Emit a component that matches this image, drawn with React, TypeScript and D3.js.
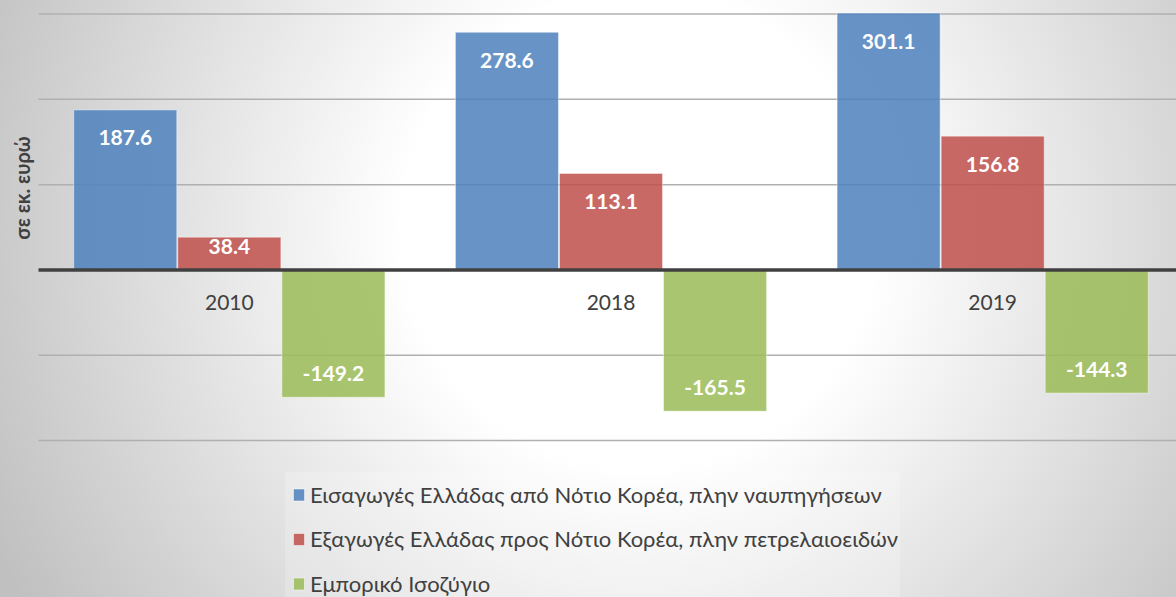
import React from "react";
import * as d3 from "d3";

const years = ["2010", "2018", "2019"];
const seriesNames = [
  "Εισαγωγές Ελλάδας από Νότιο Κορέα, πλην ναυπηγήσεων",
  "Εξαγωγές Ελλάδας προς Νότιο Κορέα, πλην πετρελαιοειδών",
  "Εμπορικό Ισοζύγιο",
];
const imports = [187.6, 278.6, 301.1];
const exportsV = [38.4, 113.1, 156.8];
const balance = [-149.2, -165.5, -144.3];
const seriesValues = [imports, exportsV, balance];
const seriesColors = ["#4f81bd", "#c0504d", "#9bbb59"];
const yTicks = [-200, -100, 0, 100, 200, 300];
const yAxisTitle = "σε εκ. ευρώ";

const W = 1176;
const H = 597;
const FONT = "Lato, 'Open Sans', 'DejaVu Sans', sans-serif";

export default function App() {
  const y = d3.scaleLinear().domain([-200, 300]).range([440.6, 14.0]);
  const x = d3
    .scaleBand<string>()
    .domain(years)
    .range([38.5, 1183.5])
    .paddingInner(0.182)
    .paddingOuter(0.091);
  const xs = d3
    .scaleBand<number>()
    .domain([0, 1, 2])
    .range([0, x.bandwidth()]);
  const y0 = y(0);

  return (
    <svg
      width={W}
      height={H}
      style={{ position: "absolute", left: 0, top: 0, display: "block" }}
    >
      <defs>
        <radialGradient
          id="bg"
          gradientUnits="userSpaceOnUse"
          cx={640}
          cy={230}
          r={720}
        >
          <stop offset="0.33" stopColor="#ffffff" />
          <stop offset="1" stopColor="#c0c0c0" />
        </radialGradient>
      </defs>
      <rect x={0} y={0} width={W} height={H} fill="url(#bg)" />

      {yTicks
        .filter((t) => t !== 0)
        .map((t) => (
          <line
            key={t}
            x1={38.5}
            x2={W}
            y1={y(t)}
            y2={y(t)}
            stroke="#b0b0b0"
            strokeWidth={1.5}
          />
        ))}

      {years.map((yr, i) => (
        <g key={yr} transform={`translate(${x(yr)},0)`}>
          {seriesValues.map((vals, s) => {
            const v = vals[i];
            const top = v >= 0 ? y(v) : y0;
            const h = Math.abs(y(v) - y0);
            const bx = xs(s)!;
            const bw = xs.bandwidth();
            let ly: number;
            if (v >= 0) ly = Math.min(y(v) + 28, y0 - 24);
            else ly = y(v) - 24;
            return (
              <g key={s}>
                <rect
                  x={bx + 0.5}
                  y={top}
                  width={bw - 1}
                  height={h}
                  fill={seriesColors[s]}
                  fillOpacity={0.86}
                  stroke="#ffffff"
                  strokeOpacity={0.45}
                  strokeWidth={1}
                />
                <text
                  x={bx + bw / 2}
                  y={ly}
                  dy="0.36em"
                  textAnchor="middle"
                  fill="#ffffff"
                  fontFamily={FONT}
                  fontWeight="bold"
                  fontSize={21}
                >
                  {v.toFixed(1)}
                </text>
              </g>
            );
          })}
          <text
            x={x.bandwidth() / 2}
            y={302}
            dy="0.36em"
            textAnchor="middle"
            fill="#404040"
            fontFamily={FONT}
            fontSize={21}
          >
            {yr}
          </text>
        </g>
      ))}

      <line
        x1={38.5}
        x2={W}
        y1={y0}
        y2={y0}
        stroke="#404040"
        strokeWidth={3.5}
      />

      <text
        transform={`translate(23,188) rotate(-90)`}
        textAnchor="middle"
        dy="0.36em"
        fill="#404040"
        fontFamily={FONT}
        fontWeight="bold"
        fontSize={20}
      >
        {yAxisTitle}
      </text>

      <rect
        x={285}
        y={472}
        width={615}
        height={130}
        fill="#ffffff"
        fillOpacity={0.2}
      />
      {seriesNames.map((name, s) => {
        const cy = 495 + s * 44.5;
        return (
          <g key={name}>
            <rect
              x={293.5}
              y={cy - 6}
              width={11}
              height={12}
              fill={seriesColors[s]}
              fillOpacity={0.86}
              stroke="#ffffff"
              strokeOpacity={0.5}
              strokeWidth={1}
            />
            <text
              x={310}
              y={cy}
              dy="0.36em"
              fill="#404040"
              fontFamily={FONT}
              fontSize={22}
            >
              {name}
            </text>
          </g>
        );
      })}
    </svg>
  );
}
